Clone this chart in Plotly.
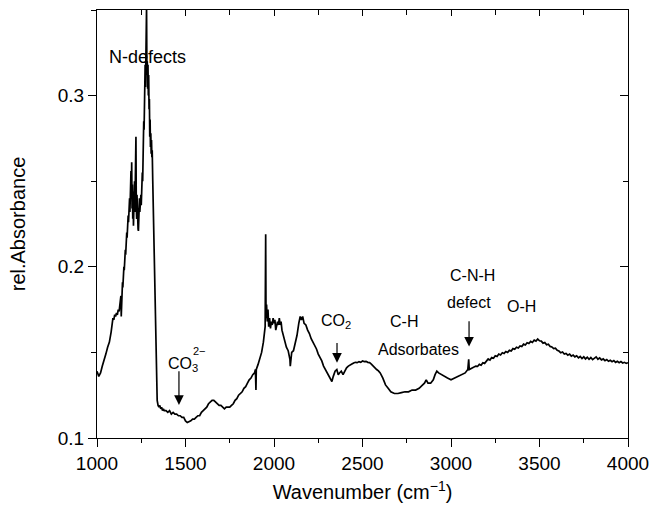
import plotly.graph_objects as go

# ---- spectrum ----
wavenumber = [
    1000, 1005, 1010, 1015, 1020, 1030, 1040, 1050, 1060, 1070, 1080, 1085, 1090, 1095,
    1100, 1105, 1110, 1115, 1120, 1125, 1130, 1135, 1137,
    1140, 1142, 1144, 1146, 1148, 1150, 1152, 1154, 1156, 1158, 1160, 1162, 1164, 1166,
    1168, 1170, 1172, 1174, 1176, 1178, 1180, 1182, 1184, 1186, 1188, 1190, 1192, 1194,
    1196, 1198, 1200, 1202, 1204, 1206, 1208, 1210, 1212, 1214, 1216, 1218, 1220, 1222,
    1224, 1226, 1228, 1230, 1232, 1234, 1236, 1238, 1240, 1242, 1244, 1246, 1248, 1250,
    1252, 1254, 1256, 1258, 1260, 1262, 1264, 1266, 1268, 1270, 1272, 1274, 1276, 1278,
    1280, 1282, 1284, 1286, 1288, 1290, 1292, 1294, 1296, 1298, 1300, 1302, 1304, 1306,
    1308, 1310, 1312, 1315,
    1320, 1325, 1330, 1335, 1340, 1345, 1350, 1355, 1360, 1365, 1370,
    1375, 1380, 1390, 1400, 1410, 1420, 1430, 1440, 1450, 1460, 1470, 1480, 1490, 1500,
    1510, 1520, 1530, 1540, 1550, 1560, 1570, 1580, 1590, 1600, 1610, 1620, 1630, 1640,
    1650, 1660, 1670, 1680, 1690, 1700, 1710, 1720, 1730, 1740, 1750, 1760, 1770, 1780,
    1790, 1800, 1810, 1820, 1830, 1840, 1850, 1860, 1870, 1880, 1890, 1895, 1898, 1900,
    1910, 1920, 1930, 1940, 1945, 1950, 1953, 1955, 1958, 1962, 1966, 1970, 1975, 1980,
    1985, 1990, 1995, 2000, 2005, 2010, 2015, 2020, 2025, 2030, 2035, 2040, 2045, 2050,
    2055, 2060, 2070, 2080, 2085, 2090, 2092, 2095, 2100, 2110, 2120, 2130, 2140, 2148,
    2155, 2162, 2170, 2180, 2190, 2200, 2210, 2220, 2230, 2240, 2250, 2260, 2270, 2280,
    2290, 2300, 2310, 2320, 2327, 2335, 2345, 2355, 2363, 2370, 2380, 2390, 2400, 2410,
    2420, 2430, 2440, 2450, 2460, 2470, 2480, 2490, 2500, 2510, 2520, 2530, 2540, 2550,
    2560, 2570, 2580, 2590, 2600, 2615, 2630, 2645, 2660, 2680, 2700, 2720, 2740, 2760,
    2780, 2800, 2820, 2840, 2850, 2860, 2870, 2885, 2900, 2910, 2920, 2930, 2945, 2960,
    2980, 3000, 3020, 3040, 3060, 3080, 3095, 3100, 3103, 3120, 3140,
    3150, 3160, 3170, 3180, 3190, 3200, 3210, 3220, 3230, 3240, 3250, 3260, 3270, 3280,
    3290, 3300, 3310, 3320, 3330, 3340, 3350, 3360, 3370, 3380, 3390, 3400, 3410, 3420,
    3430, 3440, 3450, 3460, 3470, 3480, 3490, 3500, 3510, 3520, 3530, 3540, 3550, 3560,
    3570, 3580, 3590, 3600, 3610, 3620, 3630, 3640, 3650, 3660, 3670, 3680, 3690, 3700,
    3710, 3720, 3730, 3740, 3750, 3760, 3770, 3780, 3790, 3800, 3810, 3820, 3830, 3840,
    3850, 3860, 3870, 3880, 3890, 3900, 3910, 3920, 3930, 3940, 3950, 3960, 3970, 3980,
    3990, 4000,
]
absorbance = [
    0.139, 0.137, 0.136, 0.137, 0.138, 0.142, 0.145, 0.149, 0.153, 0.156, 0.162, 0.168, 0.170, 0.169,
    0.172, 0.171, 0.173, 0.172, 0.175, 0.174, 0.181, 0.183, 0.171,
    0.186, 0.182, 0.191, 0.188, 0.195, 0.193, 0.200, 0.198, 0.206, 0.203, 0.210, 0.207, 0.215, 0.212,
    0.220, 0.217, 0.225, 0.221, 0.230, 0.226, 0.235, 0.229, 0.240, 0.232, 0.250, 0.236, 0.256, 0.240,
    0.261, 0.234, 0.248, 0.228, 0.244, 0.224, 0.242, 0.230, 0.250, 0.232, 0.262, 0.240, 0.276, 0.236,
    0.228, 0.242, 0.226, 0.238, 0.222, 0.221, 0.236, 0.228, 0.240, 0.232, 0.242, 0.234, 0.242, 0.236,
    0.245, 0.240, 0.255, 0.250, 0.268, 0.262, 0.285, 0.280, 0.305, 0.298, 0.318, 0.305, 0.322, 0.308,
    0.352, 0.312, 0.320, 0.304, 0.318, 0.300, 0.312, 0.292, 0.298, 0.276, 0.286, 0.270, 0.278, 0.266,
    0.274, 0.264, 0.268, 0.250,
    0.220, 0.190, 0.160, 0.135, 0.122, 0.119, 0.118, 0.119, 0.117, 0.118, 0.116,
    0.117, 0.116, 0.116, 0.115, 0.116, 0.114, 0.115, 0.114, 0.114, 0.113, 0.113, 0.112, 0.112, 0.110,
    0.109, 0.1095, 0.110, 0.111, 0.111, 0.112, 0.113, 0.113, 0.115, 0.116, 0.117, 0.118, 0.120, 0.121,
    0.122, 0.122, 0.121, 0.120, 0.119, 0.119, 0.118, 0.117, 0.118, 0.118, 0.118, 0.119, 0.120, 0.122,
    0.123, 0.125, 0.126, 0.127, 0.129, 0.130, 0.132, 0.134, 0.135, 0.137, 0.138, 0.140, 0.128, 0.140,
    0.143, 0.146, 0.150, 0.156, 0.160, 0.165, 0.219, 0.170, 0.178, 0.168, 0.175, 0.165, 0.170, 0.164,
    0.168, 0.166, 0.170, 0.167, 0.169, 0.163, 0.166, 0.168, 0.166, 0.170, 0.166, 0.168, 0.163, 0.161,
    0.158, 0.156, 0.153, 0.151, 0.149, 0.146, 0.142, 0.148, 0.150, 0.151, 0.155, 0.160, 0.167, 0.171,
    0.169, 0.171, 0.167, 0.166, 0.163, 0.161, 0.158, 0.156, 0.154, 0.152, 0.149, 0.147, 0.145, 0.142,
    0.140, 0.138, 0.136, 0.134, 0.133, 0.136, 0.139, 0.140, 0.137, 0.138, 0.139, 0.137, 0.139, 0.141,
    0.142, 0.1428, 0.1432, 0.1438, 0.1442, 0.1440, 0.1446, 0.1442, 0.1450, 0.1446, 0.1448, 0.1442, 0.1440, 0.1432,
    0.1420, 0.1412, 0.1400, 0.1392, 0.1380, 0.135, 0.131, 0.129, 0.127, 0.126, 0.126, 0.1265, 0.127, 0.127,
    0.128, 0.128, 0.129, 0.131, 0.132, 0.134, 0.132, 0.132, 0.134, 0.137, 0.139, 0.138, 0.137, 0.136,
    0.135, 0.134, 0.135, 0.136, 0.137, 0.138, 0.140, 0.146, 0.140, 0.141, 0.142,
    0.1418, 0.1430, 0.1425, 0.1440, 0.1436, 0.1452, 0.1462, 0.1455, 0.1470, 0.1466, 0.1480, 0.1476, 0.1490, 0.1485,
    0.1498, 0.1494, 0.1505, 0.1500, 0.1512, 0.1508, 0.1522, 0.1518, 0.1530, 0.1526, 0.1538, 0.1534, 0.1548, 0.1543,
    0.1556, 0.1552, 0.1564, 0.1558, 0.1572, 0.1566, 0.1578, 0.1568, 0.1566, 0.1554, 0.1558, 0.1545, 0.1548, 0.1535,
    0.1532, 0.1522, 0.1525, 0.1512, 0.1508, 0.1498, 0.1502, 0.1490, 0.1494, 0.1484, 0.1490, 0.1478, 0.1484, 0.1474,
    0.1480, 0.1468, 0.1476, 0.1464, 0.1474, 0.1462, 0.1472, 0.1460, 0.1470, 0.1458, 0.1466, 0.1474, 0.1460, 0.1468,
    0.1456, 0.1462, 0.1452, 0.1458, 0.1448, 0.1454, 0.1446, 0.1452, 0.1442, 0.1448, 0.1440, 0.1446, 0.1438, 0.1442,
    0.1436, 0.1440,
]

# ---- text labels (position in data units) ----
label_text = ["N-defects", "CO<sub>3</sub>", "2\u2212", "CO<sub>2</sub>", "C-H",
              "Adsorbates", "C-N-H", "defect", "O-H"]
label_x = [1288, 1488, 1578, 2350, 2734, 2819, 3120, 3102, 3398]
label_y = [0.3228, 0.1432, 0.1508, 0.168, 0.168, 0.1519, 0.1947, 0.179, 0.177]
label_size = [18, 16, 11, 16, 16, 16, 16, 16, 16]

# arrows: x position, tail absorbance, head absorbance
arrow_x = [1463, 2356, 3102]
arrow_tail = [0.1398, 0.1563, 0.169]
arrow_head = [0.1193, 0.1440, 0.1534]

FONT = "Liberation Sans, Arial, Helvetica, sans-serif"

fig = go.Figure()
fig.add_trace(go.Scatter(x=wavenumber, y=absorbance, mode="lines",
                         line=dict(color="black", width=1.7), hoverinfo="skip",
                         showlegend=False))
# invisible trace for mirrored axes (top/right ticks pointing inward)
fig.add_trace(go.Scatter(x=[1000], y=[0.1], mode="markers", marker=dict(opacity=0),
                         xaxis="x2", yaxis="y2", hoverinfo="skip", showlegend=False))

annotations = []
for t, x, y, s in zip(label_text, label_x, label_y, label_size):
    annotations.append(dict(x=x, y=y, xref="x", yref="y", text=t, showarrow=False,
                            font=dict(family=FONT, size=s, color="black")))
for x, yt, yh in zip(arrow_x, arrow_tail, arrow_head):
    annotations.append(dict(x=x, y=yh, ax=x, ay=yt, xref="x", yref="y", axref="x", ayref="y",
                            text="", showarrow=True, arrowhead=2, arrowsize=1.6,
                            arrowwidth=1.2, arrowcolor="black", standoff=0, startstandoff=0))

axis_common = dict(showgrid=False, zeroline=False, showline=True, linecolor="black",
                   linewidth=1.3, tickcolor="black", tickwidth=1.2, automargin=False)

fig.update_layout(
    width=652, height=509,
    margin=dict(l=97, r=24, t=10, b=71),
    paper_bgcolor="white", plot_bgcolor="white",
    font=dict(family=FONT, size=19, color="black"),
    xaxis=dict(range=[1000, 4000], tickvals=[1000, 1500, 2000, 2500, 3000, 3500, 4000],
               ticks="outside", ticklen=8,
               minor=dict(dtick=250, tick0=1000, ticks="outside", ticklen=4,
                          tickcolor="black", tickwidth=1.2),
               title=dict(text="Wavenumber (cm<sup>\u22121</sup>)", standoff=12,
                          font=dict(size=20)),
               **axis_common),
    yaxis=dict(range=[0.1, 0.35], tickvals=[0.1, 0.2, 0.3], ticktext=["0.1", "0.2", "0.3"],
               ticks="outside", ticklen=8,
               minor=dict(dtick=0.05, tick0=0.1, ticks="outside", ticklen=5,
                          tickcolor="black", tickwidth=1.2),
               title=dict(text="rel.Absorbance", standoff=26, font=dict(size=20)),
               **axis_common),
    xaxis2=dict(range=[1000, 4000], overlaying="x", side="top", anchor="y",
                tickvals=[1000, 1500, 2000, 2500, 3000, 3500, 4000],
                ticks="inside", ticklen=6, showticklabels=False,
                minor=dict(dtick=250, tick0=1000, ticks="inside", ticklen=5,
                           tickcolor="black", tickwidth=1.2),
                **axis_common),
    yaxis2=dict(range=[0.1, 0.35], overlaying="y", side="right", anchor="x",
                tickvals=[0.1, 0.2, 0.3], ticks="inside", ticklen=8, showticklabels=False,
                minor=dict(dtick=0.05, tick0=0.1, ticks="inside", ticklen=5,
                           tickcolor="black", tickwidth=1.2),
                **axis_common),
    annotations=annotations,
)

fig.write_html("out.html")
